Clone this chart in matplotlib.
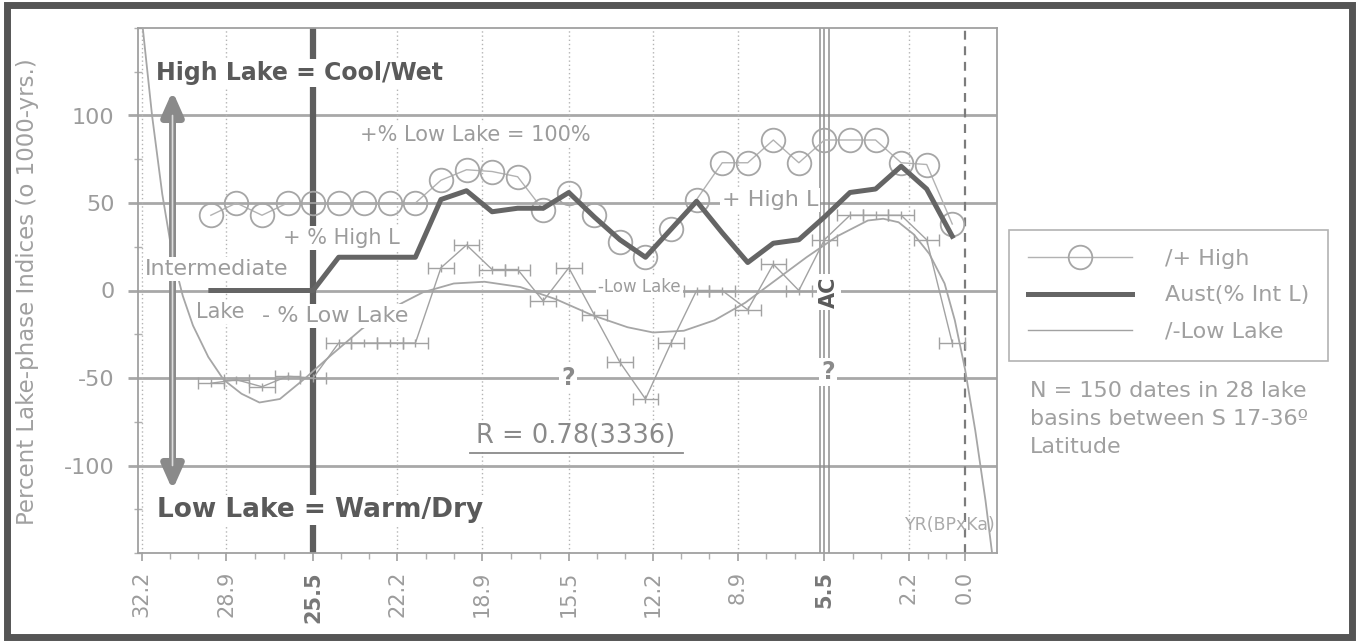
import matplotlib
matplotlib.use("Agg")
import matplotlib.pyplot as plt
from matplotlib.lines import Line2D
from matplotlib.patches import Rectangle
from matplotlib.ticker import FixedLocator, MultipleLocator

# ---------------------------------------------------------------- data
age_ka = [29.5, 28.5, 27.5, 26.5, 25.5, 24.5, 23.5, 22.5, 21.5, 20.5,
          19.5, 18.5, 17.5, 16.5, 15.5, 14.5, 13.5, 12.5, 11.5, 10.5,
          9.5, 8.5, 7.5, 6.5, 5.5, 4.5, 3.5, 2.5, 1.5, 0.5]

high_lake = [43, 50, 43, 50, 50, 50, 50, 50, 50, 63,
             69, 68, 65, 46, 56, 43, 28, 19, 35, 52,
             73, 73, 86, 73, 86, 86, 86, 73, 72, 38]

aust_int = [0, 0, 0, 0, 0, 19, 19, 19, 19, 52,
            57, 45, 47, 47, 56, 42, 29, 19, 35, 51,
            33, 16, 27, 29, 42, 56, 58, 71, 58, 31]

low_lake = [-53, -51, -55, -49, -50, -30, -30, -30, -30, 13,
            26, 12, 12, -6, 13, -14, -41, -62, -30, 0,
            0, -11, 15, 0, 29, 43, 43, 43, 29, -30]
low_lake_span = 0.5

# polynomial trend of the low-lake index
trend_age = [32.2, 31.8, 31.4, 31.0, 30.6, 30.2, 29.6, 29.0, 28.3, 27.6,
             26.8, 25.8, 24.8, 23.6, 22.4, 21.2, 20.0, 18.8, 17.4, 16.0,
             14.6, 13.2, 12.2, 11.0, 9.8, 8.6, 7.4, 6.2, 5.0, 3.8,
             3.2, 2.6, 2.0, 1.4, 0.8, 0.4, 0.0, -0.4, -0.8, -1.1]
trend_val = [155, 100, 55, 20, -3, -20, -38, -51, -59, -64,
             -62, -50, -37, -22, -10, -1, 4, 5, 2, -5,
             -14, -21, -24, -23, -17, -7, 6, 19, 31, 40,
             41, 39, 32, 21, 4, -17, -45, -80, -120, -155]

x_ticks = [32.2, 28.9, 25.5, 22.2, 18.9, 15.5, 12.2, 8.9, 5.5, 2.2, 0.0]
x_labels = ["32.2", "28.9", "25.5", "22.2", "18.9", "15.5", "12.2",
            "8.9", "5.5", "2.2", "0.0"]
y_ticks = [-100, -50, 0, 50, 100]
y_labels = ["-100", "-50", "0", "50", "100"]

legend_labels = ["/+ High", "Aust(% Int L)", "/-Low Lake"]

# ---------------------------------------------------------------- style
W, H = 1359, 641
TXT = "#9c9c9c"
DARK = "#5a5a5a"

fig = plt.figure(figsize=(W / 100, H / 100), dpi=100, facecolor="white")
ax = fig.add_axes([138 / W, 1 - 553 / H, 859 / W, 525 / H])
ax.set_facecolor("white")
ax.set_xlim(32.35, -1.25)
ax.set_ylim(-150, 150)

for s in ax.spines.values():
    s.set_color("#a0a0a0")
    s.set_linewidth(1.3)

# axes ticks
ax.set_xticks(x_ticks)
ax.set_xticklabels(x_labels, rotation=90, fontsize=15, color=TXT)
minor_x = []
for a, b in zip(x_ticks[:-1], x_ticks[1:]):
    step = (b - a) / 3
    minor_x += [a + step, a + 2 * step]
ax.xaxis.set_minor_locator(FixedLocator(minor_x))
ax.tick_params(axis="x", which="major", length=6, width=1.2, color="#a0a0a0", pad=7)
ax.tick_params(axis="x", which="minor", length=4, width=1.0, color="#b0b0b0")
for lbl in ax.get_xticklabels():
    if lbl.get_text() in ("25.5", "5.5"):
        lbl.set_fontweight("bold")
        lbl.set_color("#777777")

ax.set_yticks(y_ticks)
ax.set_yticklabels(y_labels, fontsize=16, color=TXT)
ax.yaxis.set_minor_locator(MultipleLocator(25))
ax.tick_params(axis="y", which="major", length=7, width=2, color="#a8a8a8", pad=10)
ax.tick_params(axis="y", which="minor", length=6, width=1, color="#b0b0b0", direction="inout")

# reference lines
for y in y_ticks:
    ax.axhline(y, color="#a8a8a8", lw=2.0, zorder=1)
for x in x_ticks:
    if x not in (25.5, 5.5, 0.0):
        ax.axvline(x, color="#b4b4b4", lw=1.0, ls=(0, (1, 2)), zorder=1)
ax.axvline(25.5, color="#5e5e5e", lw=4.5, zorder=2)
for dx in (-0.17, 0.0, 0.17):
    ax.axvline(5.5 + dx, color="#8e8e8e", lw=1.1, zorder=2)
ax.axvline(0.0, color="#7c7c7c", lw=1.6, ls=(0, (4, 3)), zorder=2)

# series
ax.plot(trend_age, trend_val, color="#a6a6a6", lw=1.3, zorder=3)
ax.errorbar(age_ka, low_lake, xerr=low_lake_span, color="#a2a2a2", lw=1.0,
            elinewidth=1.0, capsize=4, capthick=1.0, marker="|", ms=6, zorder=3)
ax.plot(age_ka, high_lake, color="#b2b2b2", lw=1.0, marker="o", ms=17,
        mfc="none", mec="#a6a6a6", mew=1.3, zorder=4)
ax.plot(age_ka, aust_int, color="#656565", lw=3.6, zorder=5,
        solid_joinstyle="round")

# double-headed scale arrow
ax.annotate("", xy=(31.0, 114), xytext=(31.0, -114),
            arrowprops=dict(arrowstyle="<|-|>,head_length=0.9,head_width=0.4",
                            lw=5, color="#8a8a8a", shrinkA=0, shrinkB=0,
                            mutation_scale=16), zorder=3)
ax.annotate("", xy=(31.0, 100), xytext=(31.0, -100),
            arrowprops=dict(arrowstyle="-", lw=1.2, color="#dcdcdc",
                            shrinkA=0, shrinkB=0), zorder=3.5)


# ---------------------------------------------------------------- text
def ptext(x, y, s, **kw):
    kw.setdefault("color", TXT)
    kw.setdefault("va", "center")
    kw.setdefault("bbox", dict(facecolor="white", edgecolor="none", pad=1.5))
    return fig.text(x / W, 1 - y / H, s, **kw)


ptext(300, 73, "High Lake = Cool/Wet", ha="center", fontsize=17,
      fontweight="bold", color=DARK)
ptext(320, 510, "Low Lake = Warm/Dry", ha="center", fontsize=19,
      fontweight="bold", color=DARK)
ptext(360, 135, "+% Low Lake = 100%", fontsize=15)
ptext(283, 238, "+ % High L", fontsize=15)
ptext(722, 200, "+ High L", fontsize=16)
ptext(145, 269, "Intermediate", fontsize=16)
ptext(196, 312, "Lake", fontsize=15)
ptext(262, 316, "- % Low Lake", fontsize=16)
ptext(598, 287, "-Low Lake", fontsize=12)
ptext(568, 378, "?", ha="center", fontsize=17, fontweight="bold", color="#8a8a8a")
ptext(828, 372, "?", ha="center", fontsize=17, fontweight="bold", color="#8a8a8a")
ptext(829, 292, "AC", ha="center", fontsize=15, fontweight="bold",
      rotation=90, color=DARK)
ptext(576, 436, "R = 0.78(3336)", ha="center", fontsize=18.5, color="#8a8a8a")
fig.add_artist(Line2D([470 / W, 683 / W], [1 - 453 / H, 1 - 453 / H],
                      transform=fig.transFigure, color="#8a8a8a", lw=1.3))
ptext(905, 525, "YR(BPxKa)", fontsize=12.5, bbox=None, color="#aaaaaa")

fig.text(28 / W, 1 - 292 / H, "Percent Lake-phase Indices (o 1000-yrs.)",
         rotation=90, ha="center", va="center", fontsize=16.5, color="#a0a0a0")

# legend
handles = [
    Line2D([], [], color="#b2b2b2", lw=1.0, marker="o", ms=17, mfc="none",
           mec="#a6a6a6", mew=1.3),
    Line2D([], [], color="#656565", lw=3.6),
    Line2D([], [], color="#a2a2a2", lw=1.0),
]
leg = fig.legend(handles, legend_labels, loc="upper left",
                 bbox_to_anchor=(1009 / W, 1 - 230 / H), fontsize=16,
                 frameon=True, fancybox=False, edgecolor="#a0a0a0",
                 handlelength=4.7, handletextpad=1.45, labelspacing=0.74,
                 borderpad=0.85, borderaxespad=0, numpoints=1)
leg.get_frame().set_linewidth(1.2)
for t in leg.get_texts():
    t.set_color("#a0a0a0")

fig.text(1030 / W, 1 - 381 / H,
         "N = 150 dates in 28 lake\nbasins between S 17-36\u00ba\nLatitude",
         fontsize=16, color="#a0a0a0", va="top", linespacing=1.5)

# outer frame
fig.add_artist(Rectangle((7 / W, 4 / H), 1345 / W, 632 / H,
                         transform=fig.transFigure, fill=False, lw=5,
                         edgecolor="#555555"))

fig.savefig("out.png", dpi=100, facecolor="white")
